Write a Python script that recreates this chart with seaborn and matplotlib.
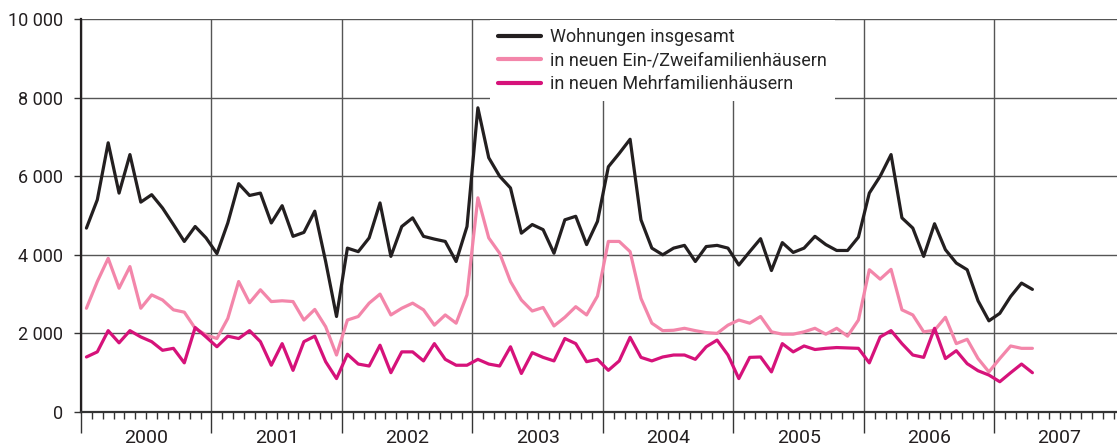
import numpy as np
import pandas as pd
import matplotlib
matplotlib.use("Agg")
import matplotlib.pyplot as plt
import matplotlib.ticker as mticker
import seaborn as sns

# monthly values, Jan 2000 - Apr 2007
total = [4680, 5400, 6850, 5570, 6550, 5340, 5530, 5190, 4770, 4340, 4720, 4430,
         4030, 4810, 5810, 5510, 5570, 4810, 5250, 4470, 4570, 5110, 3830, 2430,
         4170, 4080, 4430, 5320, 3960, 4720, 4940, 4470, 4400, 4340, 3830, 4720,
         7740, 6470, 6000, 5700, 4550, 4770, 4640, 4040, 4890, 4980, 4260, 4850,
         6240, 6580, 6940, 4890, 4170, 4000, 4170, 4240, 3830, 4210, 4240, 4170,
         3740, 4080, 4410, 3600, 4310, 4060, 4170, 4470, 4260, 4110, 4110, 4450,
         5570, 6000, 6550, 4940, 4680, 3960, 4790, 4130, 3790, 3620, 2830, 2320,
         2510, 2940, 3280, 3120]
efh = [2640, 3320, 3910, 3150, 3700, 2640, 2980, 2850, 2600, 2540, 2130, 1960,
       1870, 2380, 3320, 2780, 3110, 2810, 2830, 2810, 2340, 2610, 2170, 1450,
       2340, 2430, 2770, 3000, 2470, 2640, 2770, 2600, 2210, 2470, 2260, 2980,
       5450, 4430, 4040, 3320, 2850, 2570, 2660, 2190, 2410, 2680, 2470, 2950,
       4340, 4340, 4080, 2890, 2260, 2070, 2080, 2130, 2070, 2020, 2000, 2210,
       2340, 2260, 2430, 2040, 1980, 1980, 2040, 2130, 1980, 2130, 1930, 2340,
       3620, 3380, 3630, 2600, 2470, 2040, 2080, 2410, 1740, 1850, 1360, 1020,
       1360, 1680, 1620, 1620]
mfh = [1400, 1530, 2070, 1760, 2070, 1910, 1790, 1570, 1620, 1250, 2150, 1910,
       1660, 1930, 1870, 2070, 1790, 1190, 1740, 1060, 1790, 1930, 1280, 850,
       1470, 1220, 1170, 1700, 1000, 1530, 1530, 1300, 1740, 1340, 1190, 1190,
       1340, 1220, 1170, 1660, 980, 1510, 1390, 1300, 1870, 1740, 1280, 1340,
       1060, 1300, 1900, 1390, 1300, 1400, 1450, 1450, 1340, 1660, 1830, 1450,
       850, 1390, 1400, 1020, 1740, 1530, 1680, 1590, 1620, 1640, 1630, 1620,
       1250, 1910, 2070, 1740, 1450, 1390, 2130, 1360, 1560, 1230, 1050, 940,
       770, 1000, 1220, 1000]

labels = ["Wohnungen insgesamt",
          "in neuen Ein-/Zweifamilienhäusern",
          "in neuen Mehrfamilienhäusern"]
colors = ["#231f20", "#f386aa", "#d6127a"]
years = list(range(2000, 2008))

# month centres as fractional years
t = 2000 + (np.arange(len(total)) + 0.5) / 12
df = pd.DataFrame({
    "t": np.concatenate([t, t, t]),
    "value": total + efh + mfh,
    "series": [labels[0]] * len(total) + [labels[1]] * len(efh) + [labels[2]] * len(mfh),
})

sns.set_style("white")
plt.rcParams["font.family"] = ["Roboto", "DejaVu Sans"]

fig = plt.figure(figsize=(11.17, 4.48), dpi=100)
ax = fig.add_axes([81 / 1117, 1 - 412 / 448, 1 - 81 / 1117, (412 - 19) / 448])

sns.lineplot(data=df, x="t", y="value", hue="series", hue_order=labels,
             palette=colors, linewidth=2.3, ax=ax)

ax.set_xlim(2000, 2007.94)
ax.set_ylim(0, 10000)
ax.set_xlabel("")
ax.set_ylabel("")

# y axis
ax.yaxis.set_major_locator(mticker.MultipleLocator(2000))
ax.yaxis.set_major_formatter(mticker.FuncFormatter(lambda v, p: f"{int(v):,}".replace(",", " ")))
ax.tick_params(axis="y", which="major", length=5, width=1, color="#333333",
               pad=8, labelsize=13, labelcolor="#231f20", left=True)

# x axis: year lines, month ticks, year labels in the middle
ax.xaxis.set_major_locator(mticker.FixedLocator(years))
ax.xaxis.set_major_formatter(mticker.NullFormatter())
ax.xaxis.set_minor_locator(mticker.FixedLocator([y + m / 12 for y in years for m in range(1, 12)]))
ax.xaxis.set_minor_formatter(mticker.FuncFormatter(
    lambda v, p: str(int(v)) if abs(v - int(v) - 0.5) < 0.01 else ""))
ax.tick_params(axis="x", which="major", length=15, width=1, color="#333333", bottom=True)
ax.tick_params(axis="x", which="minor", length=5, width=1, color="#333333", bottom=True,
               pad=7, labelsize=14, labelcolor="#231f20")

ax.grid(True, which="major", axis="both", color="#555555", linewidth=1)
ax.set_axisbelow(True)

for s in ["top", "right"]:
    ax.spines[s].set_visible(False)
ax.spines["left"].set_color("#231f20")
ax.spines["left"].set_linewidth(1.6)
ax.spines["bottom"].set_color("#333333")
ax.spines["bottom"].set_linewidth(1.6)

leg = ax.legend(loc="upper left", bbox_to_anchor=((490 - 81) / 1036, 1 - 1 / 393),
                frameon=True, fancybox=False, framealpha=1, facecolor="white",
                edgecolor="none", fontsize=13, handlelength=2.4, handletextpad=0.5,
                labelspacing=0.3, borderpad=0.45, borderaxespad=0)
for line in leg.get_lines():
    line.set_linewidth(3)

fig.savefig("out.png", dpi=100)
